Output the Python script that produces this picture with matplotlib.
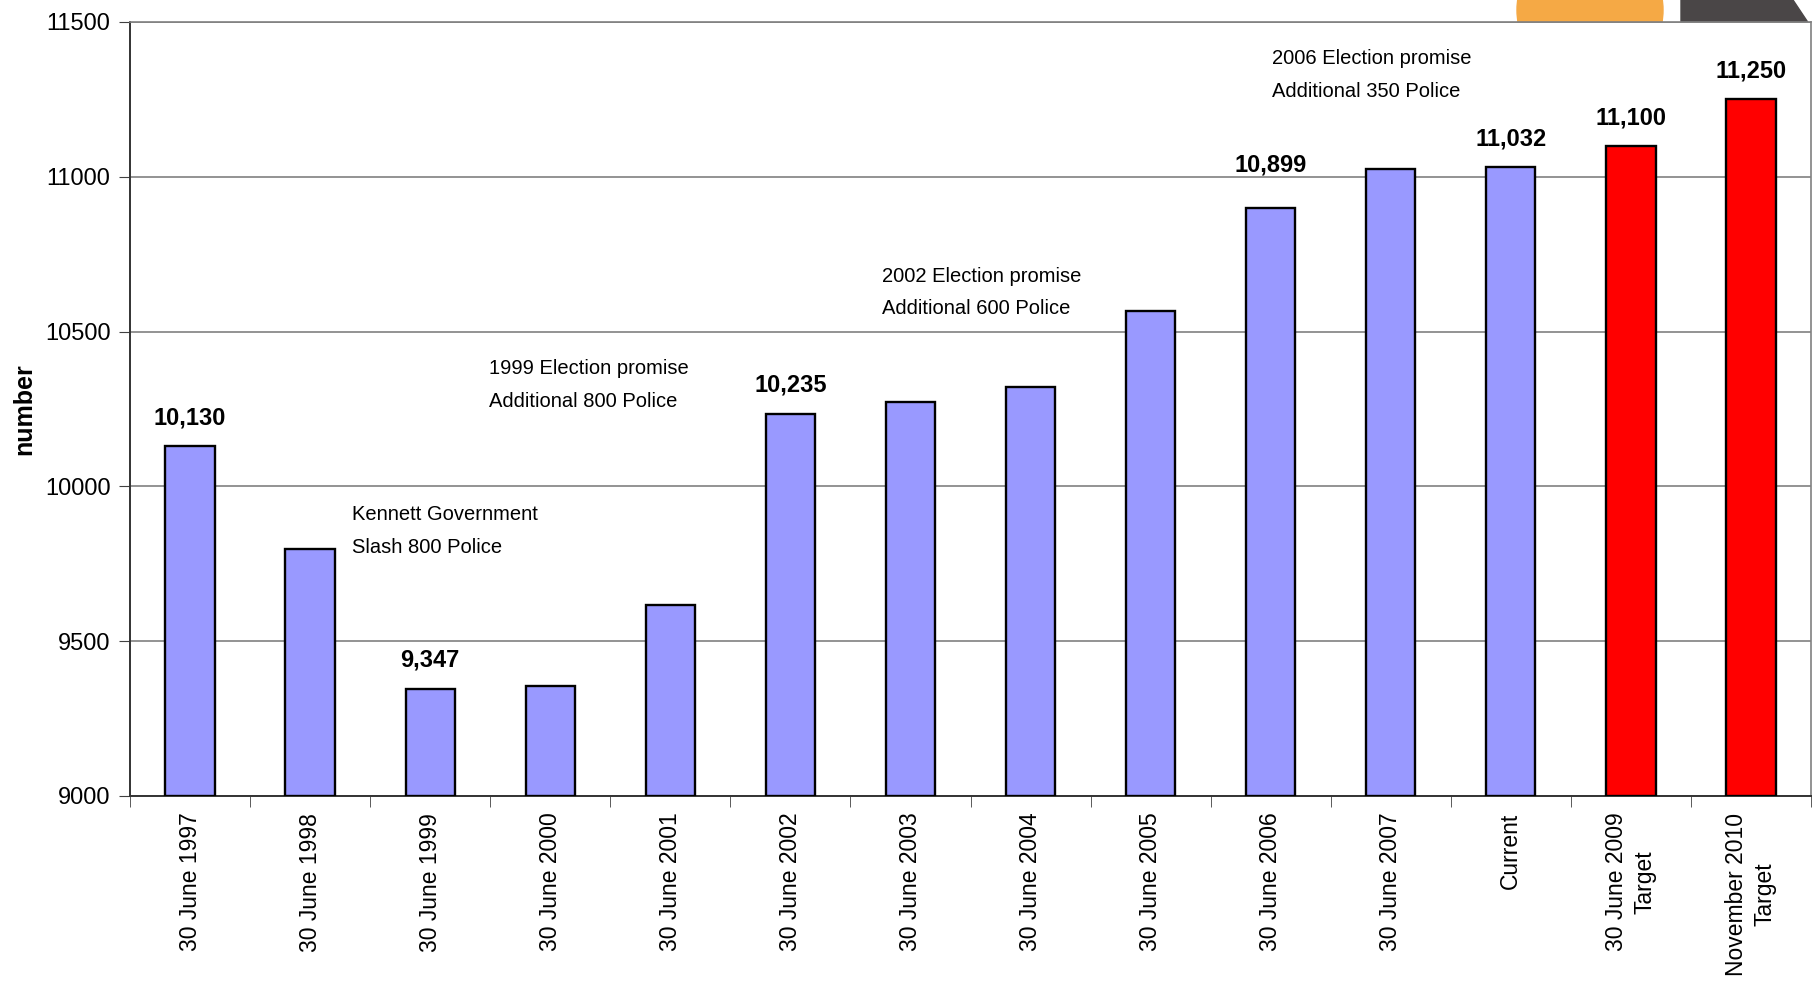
import matplotlib.pyplot as plt
import matplotlib.patches as mpatches
import numpy as np

labels = ["30 June 1997", "30 June 1998", "30 June 1999", "30 June 2000",
          "30 June 2001", "30 June 2002", "30 June 2003", "30 June 2004",
          "30 June 2005", "30 June 2006", "30 June 2007", "Current",
          "30 June 2009\nTarget", "November 2010\nTarget"]
values = [10130, 9797, 9347, 9356, 9616, 10235, 10272, 10321,
          10567, 10899, 11025, 11032, 11100, 11250]
is_target = [False] * 12 + [True, True]
labelled = [0, 2, 5, 9, 11, 12, 13]

notes = [("Kennett Government\nSlash 800 Police", 1.35, 9856),
         ("1999 Election promise\nAdditional 800 Police", 2.49, 10328),
         ("2002 Election promise\nAdditional 600 Police", 5.76, 10627),
         ("2006 Election promise\nAdditional 350 Police", 9.01, 11329)]

plt.rcParams['font.family'] = ["Liberation Sans", "DejaVu Sans"]

fig = plt.figure(figsize=(18.12, 9.85), dpi=100)

# logo bits peeking out at the top right (under the axes)
fig.patches.append(mpatches.Circle((15.90, 9.85 - 0.10), 0.73,
                                   transform=fig.dpi_scale_trans, color="#f5a945",
                                   zorder=-1))
fig.patches.append(mpatches.Polygon([(16.81, 9.85), (17.93, 9.85),
                                     (18.09, 9.85 - 0.24), (16.81, 9.85 - 0.24)],
                                    closed=True, transform=fig.dpi_scale_trans,
                                    color="#4a4647", zorder=-1))

ax = fig.add_axes([130 / 1812, 1 - 796 / 985, 1681 / 1812, 774 / 985])
ax.set_facecolor("white")

x = np.arange(len(values))
colors = ["#ff0000" if t else "#9999ff" for t in is_target]
ax.bar(x, [v - 9000 for v in values], bottom=9000, width=0.41, color=colors,
       edgecolor="black", linewidth=1.7, zorder=3)

for i in labelled:
    up = 23 if i == 9 else 12
    ax.annotate(f"{values[i]:,}", (x[i], values[i]), xytext=(0, up),
                textcoords="offset points", ha="center", va="bottom",
                fontsize=17, fontweight="bold")

for txt, nx, ny in notes:
    ax.text(nx, ny, txt, ha="left", va="center", fontsize=14.5,
            linespacing=1.9)

ax.set_xlim(-0.5, len(values) - 0.5)
ax.set_ylim(9000, 11500)
ax.set_yticks(np.arange(9000, 11501, 500))
ax.yaxis.grid(True, color="#808080", linewidth=1.2, zorder=0)
ax.set_axisbelow(True)

ax.set_xticks(x)
ax.set_xticklabels(labels, rotation=90, fontsize=16.5, linespacing=1.3)
ax.set_xticks(np.arange(-0.5, len(values), 1), minor=True)
ax.tick_params(axis="x", which="major", length=0, pad=12)
ax.tick_params(axis="x", which="minor", length=8, color="#404040", direction="out")
ax.tick_params(axis="y", length=8, color="#404040", labelsize=17, pad=6)

for s in ["top", "right"]:
    ax.spines[s].set_color("#808080")
    ax.spines[s].set_linewidth(1.2)
ax.spines["left"].set_color("#333333")
ax.spines["bottom"].set_color("#333333")
ax.spines["left"].set_linewidth(1.4)
ax.spines["bottom"].set_linewidth(1.4)

ax.set_ylabel("number", fontsize=18, fontweight="bold", labelpad=6)

plt.savefig("out.png", dpi=100)
